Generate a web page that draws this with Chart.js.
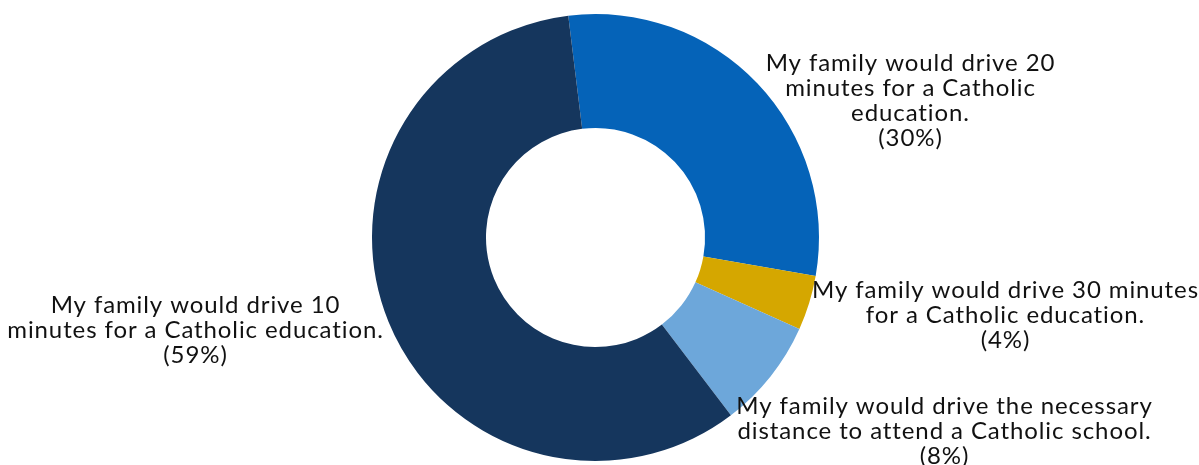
<!DOCTYPE html>
<html>
<head>
<meta charset="utf-8">
<script src="https://cdn.jsdelivr.net/npm/chart.js@4/dist/chart.umd.min.js"></script>
<style>
  html, body { margin: 0; padding: 0; background: #fff; }
  #wrap { width: 1199px; height: 465px; position: relative; }
</style>
</head>
<body>
<div id="wrap"><canvas id="driveChart"></canvas></div>
<script>
// data
const categories = [
    'My family would drive 20 minutes for a Catholic education.',
    'My family would drive 30 minutes for a Catholic education.',
    'My family would drive the necessary distance to attend a Catholic school.',
    'My family would drive 10 minutes for a Catholic education.'
];
const percentages = [30, 4, 8, 59];

// how each label is broken into lines in the picture
const labelLines = [
    ['My family would drive 20', 'minutes for a Catholic', 'education.', '(30%)'],
    ['My family would drive 30 minutes', 'for a Catholic education.', '(4%)'],
    ['My family would drive the necessary', 'distance to attend a Catholic school.', '(8%)'],
    ['My family would drive 10', 'minutes for a Catholic education.', '(59%)']
];

const sliceColors = ['#0563B8', '#D5A700', '#6DA7DA', '#15365D'];

// label anchors, offset from the doughnut centre (first baseline, centred text)
const labelOffsets = [
    { dx: 315, dy: -167 },
    { dx: 410, dy: 60 },
    { dx: 349, dy: 176 },
    { dx: -400, dy: 75 }
];

const outsideLabels = {
    id: 'outsideLabels',
    afterDraw(chart) {
        const ctx = chart.ctx;
        const arcs = chart.getDatasetMeta(0).data;
        ctx.save();
        ctx.font = '24px Lato';
        ctx.letterSpacing = '0.9px';
        ctx.fillStyle = '#111';
        ctx.textAlign = 'center';
        ctx.textBaseline = 'alphabetic';
        arcs.forEach((arc, i) => {
            const x = arc.x + labelOffsets[i].dx;
            let y = arc.y + labelOffsets[i].dy;
            labelLines[i].forEach(line => {
                ctx.fillText(line, x, y);
                y += 25;
            });
        });
        ctx.restore();
    }
};

const ctx = document.getElementById('driveChart').getContext('2d');
const chart = new Chart(ctx, {
    type: 'doughnut',
    data: {
        labels: categories,
        datasets: [{
            data: percentages,
            backgroundColor: sliceColors,
            borderWidth: 0
        }]
    },
    options: {
        responsive: true,
        maintainAspectRatio: false,
        animation: false,
        rotation: -7,
        cutout: '49%',
        layout: {
            padding: { top: 14, bottom: 4, left: 372, right: 380 }
        },
        plugins: {
            legend: { display: false },
            tooltip: { enabled: false }
        }
    },
    plugins: [outsideLabels]
});
</script>
</body>
</html>
